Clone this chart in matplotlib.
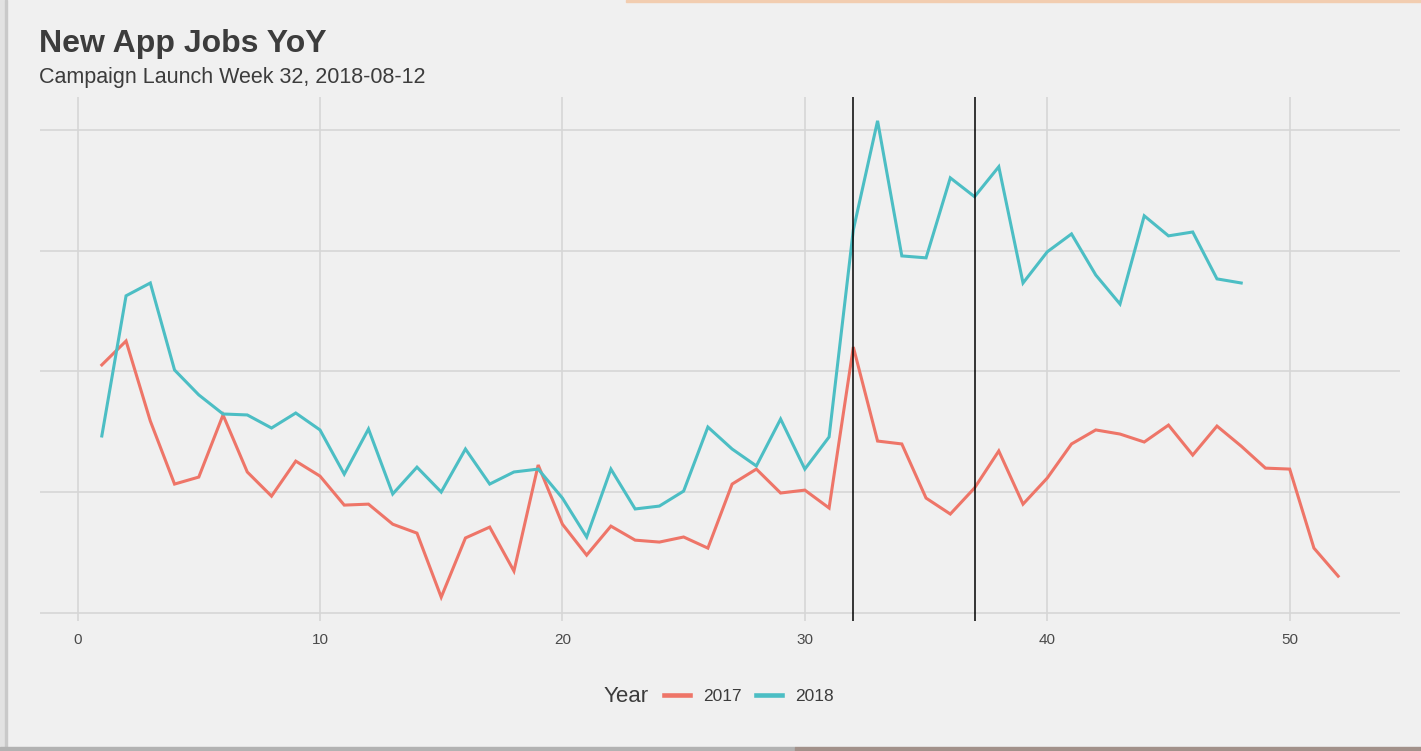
import matplotlib
matplotlib.use("Agg")
import matplotlib.pyplot as plt
from matplotlib.patches import Rectangle

# weekly new app jobs (no y labels, so units are arbitrary)
weeks_2017 = list(range(1, 53))
jobs_2017 = [102.7, 112.6, 79.5, 53.4, 56.3, 82.0, 58.4, 48.4, 62.9, 56.7,
             44.7, 45.1, 36.8, 33.1, 6.6, 31.1, 35.6, 17.4, 61.3, 36.8,
             24.0, 36.0, 30.2, 29.4, 31.5, 26.9, 53.4, 59.6, 49.7, 50.9,
             43.5, 110.1, 71.2, 70.0, 47.6, 41.0, 51.8, 67.1, 45.1, 55.9,
             70.0, 75.8, 74.1, 70.8, 77.8, 65.4, 77.4, 69.1, 60.0, 59.6,
             26.9, 15.3]

weeks_2018 = list(range(1, 49))
jobs_2018 = [73.3, 131.3, 136.6, 100.6, 90.3, 82.4, 82.0, 76.6, 82.8, 75.8,
             57.5, 76.2, 49.3, 60.4, 50.1, 67.9, 53.4, 58.4, 59.6, 47.6,
             31.5, 59.6, 43.1, 44.3, 50.5, 77.0, 67.9, 60.9, 80.3, 59.6,
             72.9, 158.6, 203.7, 147.8, 147.0, 180.1, 172.3, 184.7, 136.6, 149.5,
             156.9, 139.9, 127.9, 164.4, 156.1, 157.7, 138.3, 136.6]

launch_weeks = [32, 37]
x_ticks = [0, 10, 20, 30, 40, 50]
y_grid = [0, 50, 100, 150, 200]

red = "#EE7568"
teal = "#4CBEC4"
bg = "#F0F0F0"
txt = "#3C3C3C"

plt.rcParams["font.family"] = ["Liberation Sans", "DejaVu Sans"]

W, H = 1421, 751
fig = plt.figure(figsize=(W / 100, H / 100), dpi=100, facecolor=bg)

# screenshot frame: shadow on the left and bottom, peach line top right
fig.patches.append(Rectangle((0, 0), 6 / W, 1, transform=fig.transFigure, color="#E2E2E2", zorder=0))
fig.patches.append(Rectangle((5 / W, 0), 2 / W, 1, transform=fig.transFigure, color="#C9C9C9", zorder=0))
fig.patches.append(Rectangle((0, 0), 795 / W, 4 / H, transform=fig.transFigure, color="#B2B2B2", zorder=0))
fig.patches.append(Rectangle((795 / W, 0), 1 - 795 / W, 4 / H, transform=fig.transFigure, color="#A2918A", zorder=0))
fig.patches.append(Rectangle((626 / W, 1 - 2 / H), 1 - 626 / W, 2 / H, transform=fig.transFigure, color="#F2CDB0", zorder=0))

ax = fig.add_axes([40 / W, 1 - 621 / H, 1360 / W, 524 / H])
ax.set_facecolor(bg)

l1, = ax.plot(weeks_2017, jobs_2017, color=red, lw=2.2, label="2017", solid_joinstyle="miter", zorder=3)
l2, = ax.plot(weeks_2018, jobs_2018, color=teal, lw=2.2, label="2018", solid_joinstyle="miter", zorder=3)

for w in launch_weeks:
    ax.axvline(w, color="black", lw=1.1, zorder=4)

# ggplot-style 5% expansion
lo = min(min(jobs_2017), min(jobs_2018))
hi = max(max(jobs_2017), max(jobs_2018))
pad = (hi - lo) * 0.05
ax.set_ylim(lo - pad, hi + pad)
xpad = (52 - 1) * 0.05
ax.set_xlim(1 - xpad, 52 + xpad)

ax.set_xticks(x_ticks)
ax.set_yticks(y_grid)
ax.set_yticklabels([])
ax.grid(True, color="#D6D6D6", lw=1.2, zorder=1)
ax.set_axisbelow(True)
ax.tick_params(length=0, labelsize=11, labelcolor="#4A4A4A", pad=9)
ax.tick_params(axis="y", labelleft=False)
for s in ax.spines.values():
    s.set_visible(False)

fig.text(39 / W, 1 - 52 / H, "New App Jobs YoY", fontsize=23, fontweight="bold",
         color=txt, va="baseline", ha="left")
fig.text(39 / W, 1 - 83 / H, "Campaign Launch Week 32, 2018-08-12", fontsize=15.5,
         color=txt, va="baseline", ha="left")

fig.text(604 / W, 1 - 696 / H, "Year", fontsize=16, color=txt, va="center", ha="left")
leg = fig.legend(handles=[l1, l2], loc="center left", bbox_to_anchor=(664 / W, 1 - 696 / H),
                 ncol=2, frameon=False, fontsize=12.5, handlelength=1.5, handletextpad=0.75,
                 columnspacing=0.85, borderpad=0, borderaxespad=0)
for t in leg.get_texts():
    t.set_color(txt)
for ln in leg.get_lines():
    ln.set_linewidth(3.3)

fig.savefig("out.png", dpi=100, facecolor=fig.get_facecolor())
